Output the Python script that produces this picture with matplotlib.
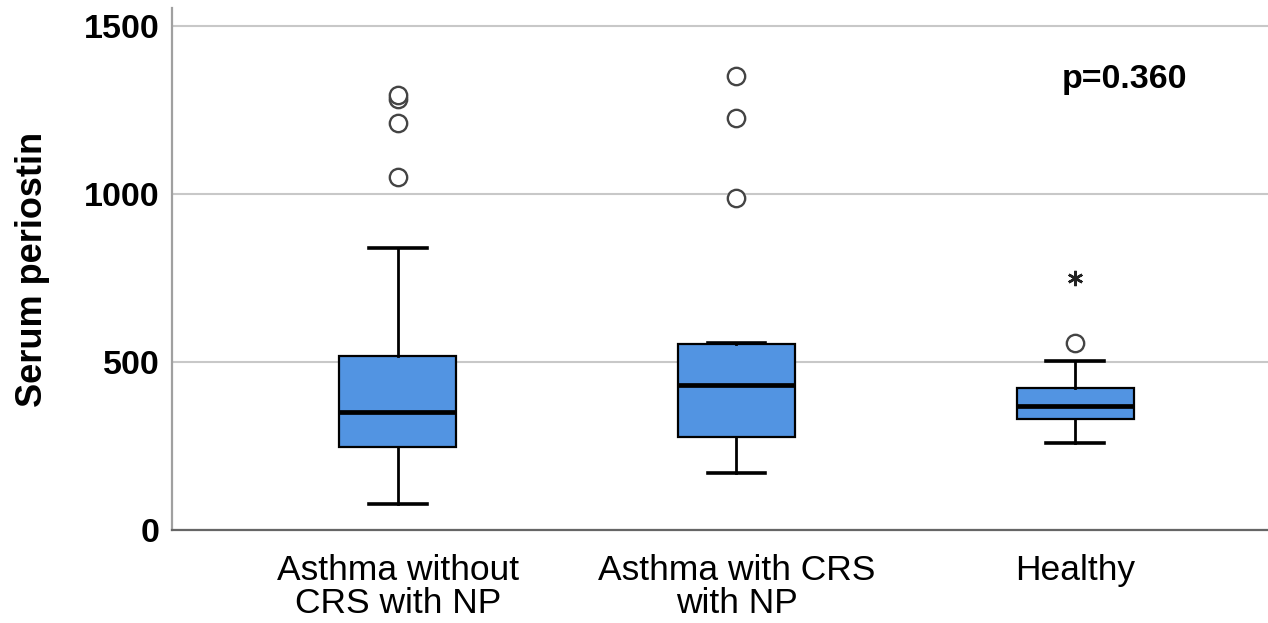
import matplotlib
matplotlib.use("Agg")
import matplotlib.pyplot as plt

plt.rcParams['font.family'] = ['Liberation Sans', 'DejaVu Sans']

groups = ["Asthma without\nCRS with NP", "Asthma with CRS\nwith NP", "Healthy"]
whislo = [77, 171, 258]
q1 = [248, 277, 331]
med = [351, 432, 369]
q3 = [518, 554, 422]
whishi = [840, 556, 504]
outliers = [[1051, 1210, 1282, 1295], [989, 1227, 1349], [557]]
extremes = [[], [], [749]]
p_text = "p=0.360"

box_color = "#5294e2"

fig = plt.figure(figsize=(12.68, 6.23), dpi=100)
ax = fig.add_axes([0.1356, 0.1493, 0.8644, 0.838])

stats = []
for i in range(len(groups)):
    stats.append(dict(whislo=whislo[i], q1=q1[i], med=med[i], q3=q3[i],
                      whishi=whishi[i], fliers=[], label=groups[i]))

pos = list(range(1, len(groups) + 1))
ax.bxp(stats, positions=pos, widths=0.345, capwidths=0.17, patch_artist=True,
       showfliers=False,
       boxprops=dict(facecolor=box_color, edgecolor="black", linewidth=1.6),
       medianprops=dict(color="black", linewidth=3.4),
       whiskerprops=dict(color="black", linewidth=2.0),
       capprops=dict(color="black", linewidth=2.6), zorder=3)

for i, vals in enumerate(outliers):
    ax.plot([pos[i]] * len(vals), vals, linestyle="none", marker="o",
            markersize=12.5, markerfacecolor="white", markeredgecolor="#444444",
            markeredgewidth=1.7, zorder=4)
for i, vals in enumerate(extremes):
    if vals:
        ax.plot([pos[i]] * len(vals), vals, linestyle="none", marker=(6, 2, 0),
                markersize=11, markeredgecolor="#222222", markeredgewidth=1.8,
                zorder=4)

ax.text(3.147, 1339, p_text, ha="center", va="center", fontsize=24.5,
        fontweight="bold")

ax.set_xlim(1 - 226 / 339, 3 + 193 / 339)
ax.set_ylim(0, 1553)
ax.set_yticks([0, 500, 1000, 1500])
ax.yaxis.grid(True, color="#c8c8c8", linewidth=1.5)
ax.set_axisbelow(True)
ax.tick_params(axis="both", length=0)
ax.tick_params(axis="y", pad=9, labelsize=24.5)
ax.tick_params(axis="x", pad=17, labelsize=25.5)
for lab in ax.get_yticklabels():
    lab.set_fontweight("bold")
for lab in ax.get_xticklabels():
    lab.set_linespacing(1.0)

ax.set_ylabel("Serum periostin", fontsize=26, fontweight="bold", labelpad=24)

ax.spines["top"].set_visible(False)
ax.spines["right"].set_visible(False)
ax.spines["left"].set_color("#a0a0a0")
ax.spines["left"].set_linewidth(1.6)
ax.spines["bottom"].set_color("#666666")
ax.spines["bottom"].set_linewidth(1.6)

fig.savefig("out.png", dpi=100)
